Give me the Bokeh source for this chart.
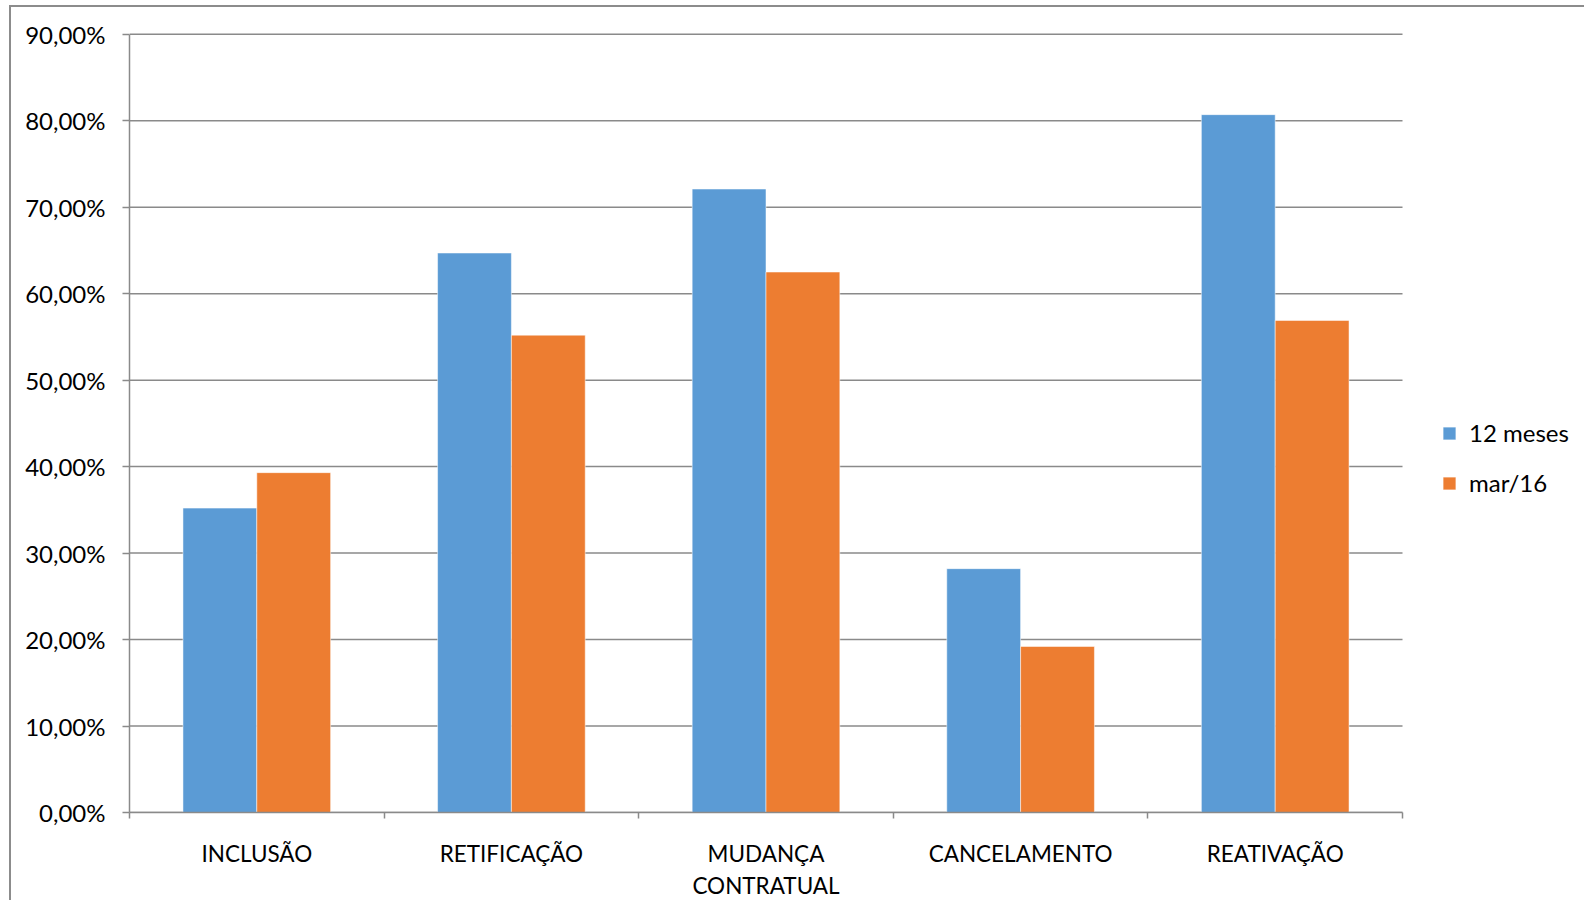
import numpy as np
from bokeh.plotting import figure
from bokeh.models import FixedTicker, CustomJSTickFormatter, Range1d, ColumnDataSource, Legend, LegendItem
from bokeh.embed import file_html
from bokeh.resources import INLINE

categories = ["INCLUSÃO", "RETIFICAÇÃO", "MUDANÇA\nCONTRATUAL", "CANCELAMENTO", "REATIVAÇÃO"]
series_names = ["12 meses", "mar/16"]
values_12_meses = [35.2, 64.7, 72.1, 28.2, 80.7]
values_mar16 = [39.3, 55.2, 62.5, 19.2, 56.9]
y_ticks = [0, 10, 20, 30, 40, 50, 60, 70, 80, 90]

BLUE = "#5B9BD5"
ORANGE = "#ED7D31"
GRID = "#8a8a8a"
FONT = "Lato"

# layout geometry (pixels)
W, H = 1575, 895
LEFT, TOP, BOTTOM = 118, 25, 90
CAT_PX = 254.6

n = len(categories)
centers = list(np.arange(n) + 0.5)
bar_w = 0.29
x_end = (W - LEFT) / CAT_PX

src = ColumnDataSource(dict(
    x1=[c - bar_w / 2 for c in centers],
    x2=[c + bar_w / 2 for c in centers],
    a=values_12_meses,
    b=values_mar16,
))
grid_src = ColumnDataSource(dict(x0=[0] * len(y_ticks), x1=[n] * len(y_ticks), y=y_ticks))

p = figure(width=W, height=H, x_range=Range1d(0, x_end), y_range=Range1d(0, 90.2),
           output_backend="svg", toolbar_location=None,
           min_border_left=LEFT, min_border_right=0, min_border_top=TOP, min_border_bottom=BOTTOM)
p.styles = {"border-left": "2px solid #8c8c8c", "border-top": "2px solid #8c8c8c",
            "margin-left": "9px", "margin-top": "5px"}
p.outline_line_color = None
p.background_fill_color = "white"
p.border_fill_color = "white"
p.xgrid.visible = False
p.ygrid.visible = False

p.segment(x0="x0", x1="x1", y0="y", y1="y", source=grid_src, line_color=GRID, line_width=1.5)

r1 = p.vbar(x="x1", top="a", width=bar_w, source=src, fill_color=BLUE, line_color="white",
            line_alpha=0.5, line_width=1)
r2 = p.vbar(x="x2", top="b", width=bar_w, source=src, fill_color=ORANGE, line_color="white",
            line_alpha=0.5, line_width=1)

yax = p.yaxis[0]
yax.bounds = (0, 90)
yax.ticker = FixedTicker(ticks=y_ticks, minor_ticks=[])
yax.formatter = CustomJSTickFormatter(code="return tick.toFixed(2).replace('.', ',') + '%';")
yax.major_tick_out = 7
yax.major_tick_in = 0
yax.minor_tick_out = 0
yax.minor_tick_in = 0
yax.axis_line_color = GRID
yax.axis_line_width = 1.5
yax.major_tick_line_color = GRID
yax.major_tick_line_width = 1.5
yax.major_label_standoff = 17
yax.major_label_text_font = FONT
yax.major_label_text_font_size = "24px"
yax.major_label_text_color = "black"

xax = p.xaxis[0]
xax.bounds = (0, n)
xax.ticker = FixedTicker(ticks=centers, minor_ticks=list(range(n + 1)))
xax.formatter = CustomJSTickFormatter(args=dict(labels=categories),
                                      code="return labels[Math.floor(tick)];")
xax.major_tick_out = 0
xax.major_tick_in = 0
xax.minor_tick_in = 0
xax.minor_tick_out = 6
xax.minor_tick_line_color = GRID
xax.minor_tick_line_width = 1.5
xax.axis_line_color = GRID
xax.axis_line_width = 1.5
xax.major_label_standoff = 21
xax.major_label_text_font = FONT
xax.major_label_text_font_size = "22.5px"
xax.major_label_text_color = "black"

lg = Legend(items=[LegendItem(label=series_names[0], renderers=[r1]),
                   LegendItem(label=series_names[1], renderers=[r2])])
lg.location = (1312, 315)
lg.glyph_width = 16
lg.glyph_height = 16
lg.label_height = 29
lg.spacing = 21
lg.padding = 0
lg.margin = 0
lg.border_line_color = None
lg.background_fill_alpha = 0
lg.label_standoff = 12
lg.label_text_font = FONT
lg.label_text_font_size = "24px"
lg.label_text_color = "black"
p.add_layout(lg, "center")

open("out.html", "w").write(file_html(p, INLINE))
